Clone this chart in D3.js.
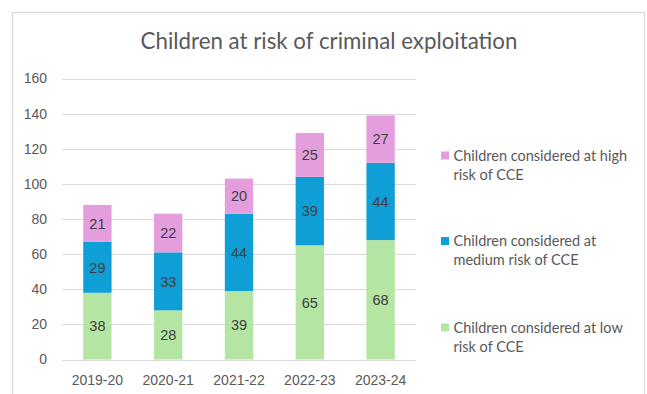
<!DOCTYPE html>
<html>
<head>
<meta charset="utf-8">
<script src="https://cdn.jsdelivr.net/npm/d3@7"></script>
<style>
  html, body { margin: 0; padding: 0; background: #ffffff; }
  svg { display: block; }
</style>
</head>
<body>
<svg id="chart" width="647" height="394"></svg>
<script>
// Reporting years on the x axis
const years = ["2019-20", "2020-21", "2021-22", "2022-23", "2023-24"];
// Children at each risk level, bottom to top of every stack
const lowRisk = [38, 28, 39, 65, 68];
const mediumRisk = [29, 33, 44, 39, 44];
const highRisk = [21, 22, 20, 25, 27];
const yTicks = [0, 20, 40, 60, 80, 100, 120, 140, 160];
// Legend entries, each wrapped over two lines (low, medium, high)
const legendLines = [
  ["Children considered at low", "risk of CCE"],
  ["Children considered at", "medium risk of CCE"],
  ["Children considered at high", "risk of CCE"]
];

const colors = ["#b4e5a2", "#0f9ed5", "#e59edd"];

const svg = d3.select("#chart");
const H = 394;

// Chart frame
svg.append("rect")
  .attr("x", 12.5).attr("y", 12.5)
  .attr("width", 632).attr("height", H + 20)
  .attr("fill", "#ffffff")
  .attr("stroke", "#d9d9d9").attr("stroke-width", 1.2);

// Title
svg.append("text")
  .attr("x", 329).attr("y", 49)
  .attr("text-anchor", "middle")
  .attr("font-family", "Lato, 'Open Sans', sans-serif")
  .attr("font-size", 22.3)
  .attr("fill", "#595959")
  .text("Children at risk of criminal exploitation");

const plot = { left: 62, right: 416, top: 78.5, bottom: 359.5 };

const x = d3.scaleBand()
  .domain(years)
  .range([plot.left, plot.right])
  .paddingInner(0.6)
  .paddingOuter(0.3);

const y = d3.scaleLinear()
  .domain([0, 160])
  .range([plot.bottom, plot.top]);

// Horizontal gridlines
svg.append("g")
  .selectAll("line")
  .data(yTicks)
  .join("line")
  .attr("x1", plot.left).attr("x2", plot.right)
  .attr("y1", d => Math.round(y(d)) + 0.5)
  .attr("y2", d => Math.round(y(d)) + 0.5)
  .attr("stroke", "#d9d9d9").attr("stroke-width", 1.2);

// Y axis tick labels
const yAxis = d3.axisLeft(y).tickValues(yTicks).tickSize(0).tickPadding(0);
const yG = svg.append("g")
  .attr("transform", "translate(47,0)")
  .call(yAxis);
yG.select(".domain").remove();
yG.selectAll("text")
  .attr("font-family", "'Liberation Sans', Arial, sans-serif")
  .attr("font-size", 14)
  .attr("fill", "#595959");

// Stack the three series
const rows = years.map((yr, i) => ({
  year: yr, low: lowRisk[i], medium: mediumRisk[i], high: highRisk[i]
}));
const keys = ["low", "medium", "high"];
const stacked = d3.stack().keys(keys)(rows);

const layers = svg.append("g")
  .selectAll("g")
  .data(stacked)
  .join("g")
  .attr("fill", (d, i) => colors[i]);

layers.selectAll("rect")
  .data(d => d)
  .join("rect")
  .attr("x", d => x(d.data.year))
  .attr("width", x.bandwidth())
  .attr("y", d => y(d[1]))
  .attr("height", d => y(d[0]) - y(d[1]));

// Value labels centred in each segment
const labels = svg.append("g");
stacked.forEach((layer, li) => {
  labels.selectAll(null)
    .data(layer)
    .join("text")
    .attr("x", d => x(d.data.year) + x.bandwidth() / 2)
    .attr("y", d => y((d[0] + d[1]) / 2))
    .attr("dy", "0.36em")
    .attr("text-anchor", "middle")
    .attr("font-family", "'Liberation Sans', Arial, sans-serif")
    .attr("font-size", 14.5)
    .attr("fill", "#404040")
    .text(d => d.data[keys[li]]);
});

// X axis category labels
const xAxis = d3.axisBottom(x).tickSize(0).tickPadding(0);
const xG = svg.append("g")
  .attr("transform", "translate(0,375)")
  .call(xAxis);
xG.select(".domain").remove();
xG.selectAll("text")
  .attr("font-family", "'Liberation Sans', Arial, sans-serif")
  .attr("font-size", 14)
  .attr("fill", "#595959");

// Legend, high risk at the top
const legendY = [155.5, 241, 327.5];
const legend = svg.append("g");
[2, 1, 0].forEach((si, idx) => {
  const g = legend.append("g").attr("transform", `translate(441,${legendY[idx]})`);
  g.append("rect")
    .attr("x", 0).attr("y", -4)
    .attr("width", 8).attr("height", 8)
    .attr("fill", colors[si]);
  legendLines[si].forEach((line, li) => {
    g.append("text")
      .attr("x", 12.5)
      .attr("y", li * 18.8)
      .attr("dy", "0.36em")
      .attr("font-family", "Lato, 'Open Sans', sans-serif")
      .attr("font-size", 14.5)
      .attr("fill", "#595959")
      .text(line);
  });
});
</script>
</body>
</html>
